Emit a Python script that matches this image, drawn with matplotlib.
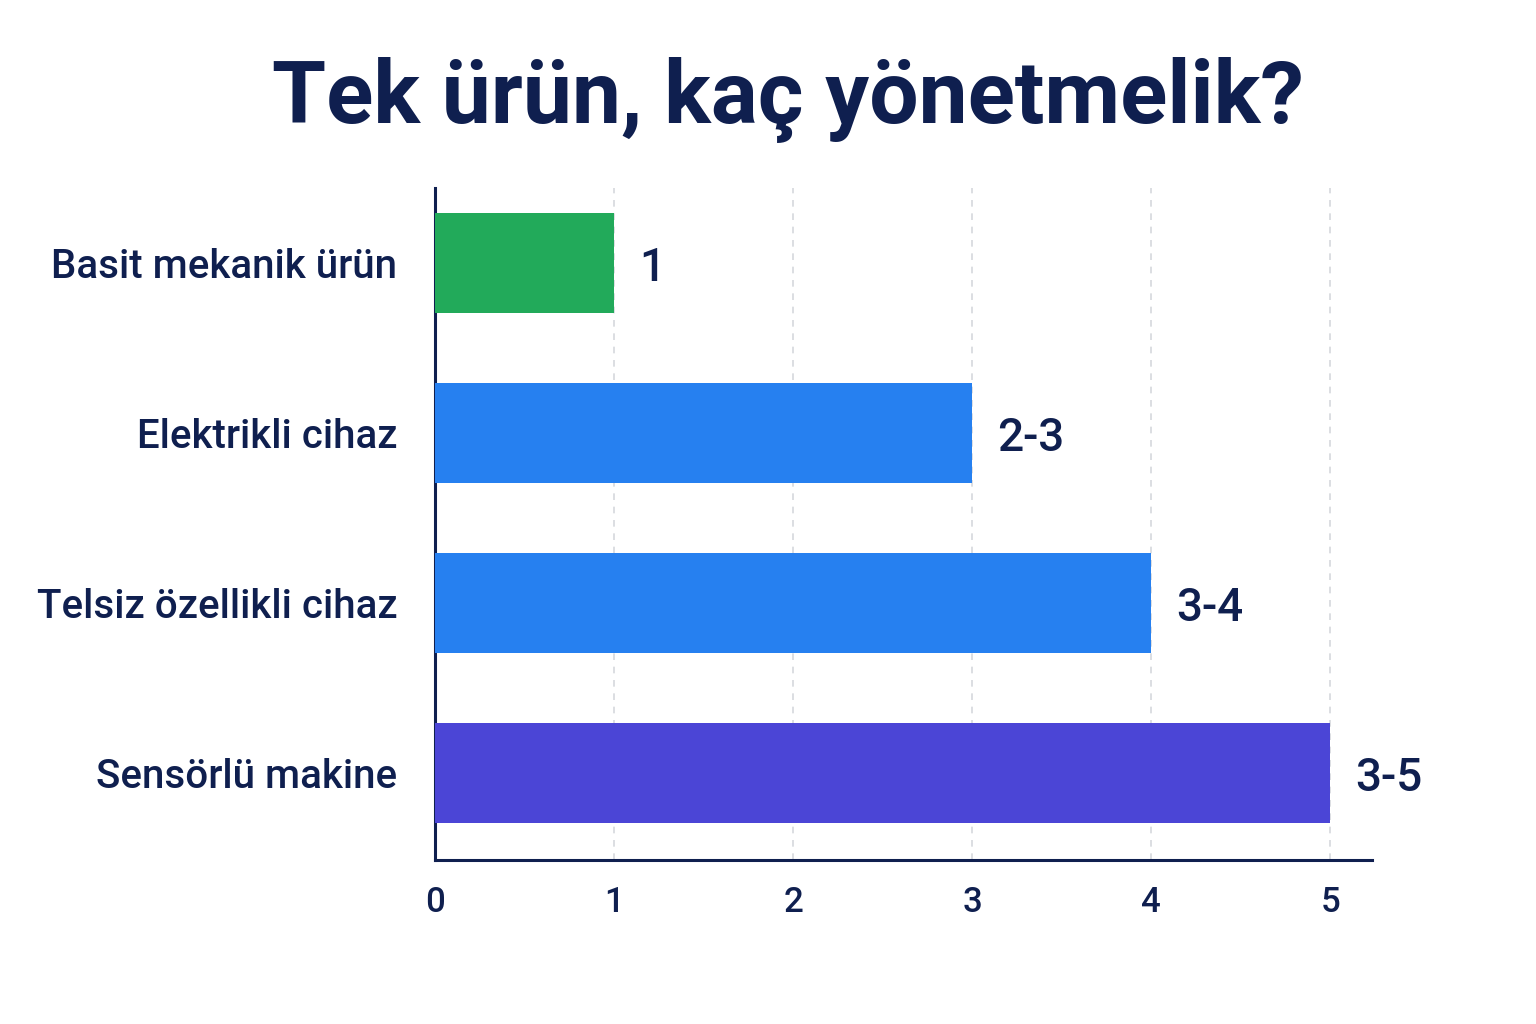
import matplotlib
matplotlib.use('Agg')
import matplotlib.pyplot as plt

categories = ['Basit mekanik ürün', 'Elektrikli cihaz', 'Telsiz özellikli cihaz', 'Sensörlü makine']
values = [1, 3, 4, 5]
value_labels = ['1', '2-3', '3-4', '3-5']
colors = ['#22AA5A', '#2680F0', '#2680F0', '#4B45D6']

navy = '#0F1F4F'
plt.rcParams['font.family'] = ['Roboto', 'DejaVu Sans']

fig = plt.figure(figsize=(15.36, 10.24), dpi=100)
ax = fig.add_axes([0.2832, 0.1602, 0.893 - 0.2832, 0.8164 - 0.1602])

ypos = list(range(len(categories)))
ax.barh(ypos, values, height=0.59, color=colors, zorder=3)

for y, v, lab in zip(ypos, values, value_labels):
    ax.text(v + 0.14, y + 0.03, lab, va='center', ha='left', fontsize=33,
            color=navy, fontweight='medium')

ax.set_xlim(0, 5.23)
ax.set_ylim(3.51, -0.44)
ax.set_yticks(ypos)
ax.set_yticklabels(categories, fontsize=29, color=navy, fontweight='medium')
ax.set_xticks([0, 1, 2, 3, 4, 5])
ax.set_xticklabels(['0', '1', '2', '3', '4', '5'], fontsize=25, color=navy, fontweight='medium')
ax.tick_params(length=0)
ax.tick_params(axis='x', pad=19)
ax.tick_params(axis='y', pad=27)

for x in [1, 2, 3, 4, 5]:
    ax.axvline(x, color='#D5D8DD', linestyle=(0, (4, 4)), linewidth=1.2, zorder=1)

ax.spines['top'].set_visible(False)
ax.spines['right'].set_visible(False)
ax.spines['left'].set_color(navy)
ax.spines['bottom'].set_color(navy)
ax.spines['left'].set_linewidth(2.2)
ax.spines['bottom'].set_linewidth(2.2)

fig.text(0.513, 0.902, 'Tek ürün, kaç yönetmelik?', ha='center', va='center',
         fontsize=63, fontweight='bold', color=navy)

fig.savefig('out.png', dpi=100, facecolor='white')
